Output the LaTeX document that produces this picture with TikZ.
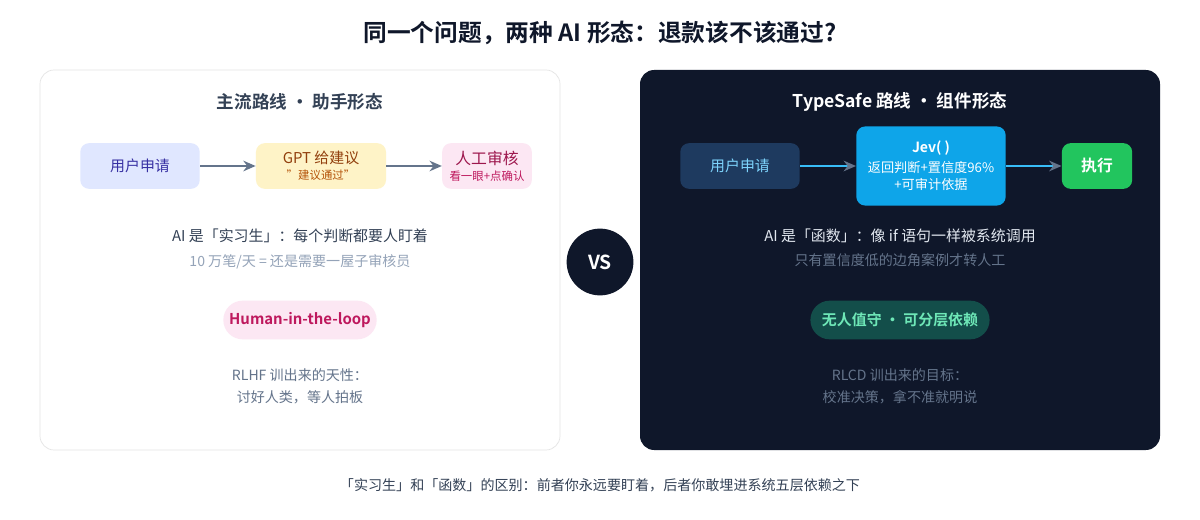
\documentclass[tikz,border=0pt]{standalone}
\usepackage{fontspec}
\setmainfont{Noto Sans CJK SC}
\newfontfamily\cjkbold{Noto Sans CJK SC Bold}
\usetikzlibrary{arrows.meta}
\definecolor{navy}{HTML}{0F172A}
\definecolor{slate}{HTML}{334155}
\definecolor{slategray}{HTML}{64748B}
\definecolor{lightgray}{HTML}{94A3B8}
\definecolor{indigobg}{HTML}{E0E7FF}
\definecolor{indigotx}{HTML}{3730A3}
\definecolor{amberbg}{HTML}{FEF3C7}
\definecolor{ambertx}{HTML}{92400E}
\definecolor{ambersub}{HTML}{B45309}
\definecolor{pinkbg}{HTML}{FCE7F3}
\definecolor{pinktx}{HTML}{9D174D}
\definecolor{pinksub}{HTML}{BE185D}
\definecolor{deepblue}{HTML}{1E3A5F}
\definecolor{skytx}{HTML}{7DD3FC}
\definecolor{skybg}{HTML}{0EA5E9}
\definecolor{skyline}{HTML}{38BDF8}
\definecolor{greenbg}{HTML}{22C55E}
\definecolor{offwhite}{HTML}{E2E8F0}
\definecolor{tealbg}{HTML}{134E4A}
\definecolor{tealtx}{HTML}{6EE7B7}
\tikzset{
  box/.style={rounded corners=5pt, minimum height=26pt, align=center, inner sep=2pt},
  flow/.style={-{Stealth[length=7pt,width=6pt,color=slategray]}, line width=1.2pt},
  note/.style={font=\fontsize{8}{12.5}\selectfont, align=center},
  heading/.style={font=\cjkbold\fontsize{10}{12}\selectfont},
}
\begin{document}
\begin{tikzpicture}[x=0.02cm, y=-0.02cm]
\useasboundingbox (0,0) rectangle (1200,520);
\fill[white] (0,0) rectangle (1200,520);

\node[font=\cjkbold\fontsize{13.5}{15}\selectfont, text=navy] (title) at (600,33) {同一个问题，两种 AI 形态：退款该不该通过?};

% left panel
\draw[draw=black!10, fill=white, rounded corners=8pt] (40,70) rectangle (560,450);
\node[heading, text=slate] (ltitle) at (300,102) {主流路线 · 助手形态};
\node[box, fill=indigobg, text=indigotx, minimum width=68pt, font=\fontsize{8.5}{10}\selectfont] (luser) at (140,166) {用户申请};
\node[box, fill=amberbg, text=ambertx, minimum width=74pt, font=\fontsize{8.5}{10}\selectfont] (gpt) at (321,166) {GPT 给建议\\[-1pt]{\color{ambersub}\fontsize{6.5}{8}\selectfont \char"22 建议通过\char"22}};
\node[box, fill=pinkbg, text=pinktx, minimum width=51pt, font=\fontsize{9}{10}\selectfont] (human) at (487,166) {人工审核\\[-1pt]{\color{pinksub}\fontsize{6.5}{8}\selectfont 看一眼+点确认}};
\draw[flow, slategray] (luser) -- (gpt);
\draw[flow, slategray] (gpt) -- (human);
\node[note, text=slate, font=\fontsize{8.5}{10}\selectfont] (lrole) at (300,236) {AI 是「实习生」：每个判断都要人盯着};
\node[note, text=lightgray] (lscale) at (300,262) {10 万笔/天 = 还是需要一屋子审核员};
\node[rounded corners=11pt, fill=pinkbg, text=pinksub, minimum width=79pt, minimum height=22pt, font=\cjkbold\fontsize{8.5}{10}\selectfont] (hitl) at (300,320) {Human-in-the-loop};
\node[note, text=slategray] (lrlhf) at (300,386) {RLHF 训出来的天性：\\讨好人类，等人拍板};

% vs
\node[circle, fill=navy, minimum size=38pt, text=white, font=\cjkbold\fontsize{11}{12}\selectfont] (vs) at (600,262) {VS};

% right panel
\fill[navy, rounded corners=8pt] (640,70) rectangle (1160,450);
\node[heading, text=white] (rtitle) at (900,102) {TypeSafe 路线 · 组件形态};
\node[box, fill=deepblue, text=skytx, minimum width=68pt, font=\fontsize{8.5}{10}\selectfont] (ruser) at (740,166) {用户申请};
\node[box, fill=skybg, text=white, minimum width=85pt, minimum height=45pt, font=\fontsize{7.5}{10}\selectfont] (jev) at (931,166) {{\cjkbold\fontsize{8}{9}\selectfont Jev( )}\\[1pt]返回判断+置信度96\%\\+可审计依据};
\node[box, fill=greenbg, text=white, minimum width=40pt, font=\cjkbold\fontsize{9}{10}\selectfont] (exec) at (1097,166) {执行};
\draw[flow, skyline] (ruser) -- (jev);
\draw[flow, skyline] (jev) -- (exec);
\node[note, text=offwhite, font=\fontsize{8.5}{10}\selectfont] (rrole) at (900,236) {AI 是「函数」：像 if 语句一样被系统调用};
\node[note, text=slategray] (redge) at (900,260) {只有置信度低的边角案例才转人工};
\node[rounded corners=11pt, fill=tealbg, text=tealtx, minimum width=102pt, minimum height=22pt, font=\cjkbold\fontsize{8.5}{10}\selectfont] (auto) at (900,320) {无人值守 · 可分层依赖};
\node[note, text=slategray] (rrlcd) at (900,386) {RLCD 训出来的目标：\\校准决策，拿不准就明说};

\node[note, text=slate] (footer) at (600,485) {「实习生」和「函数」的区别：前者你永远要盯着，后者你敢埋进系统五层依赖之下};
\end{tikzpicture}
\end{document}
